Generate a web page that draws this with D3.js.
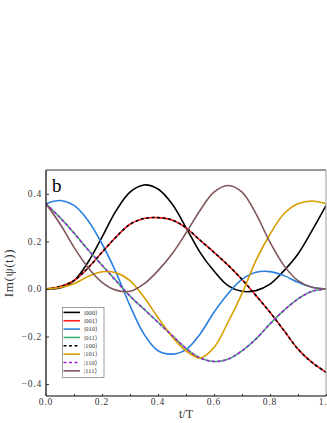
<!DOCTYPE html>
<html lang="en">
<head>
  <meta charset="UTF-8">
  <title>Im(psi(t))</title>
  <style>
    body { margin: 0; background: #fff; }
    text { font-family: "Liberation Serif", "DejaVu Serif", serif; }
  </style>
</head>
<script src="https://d3js.org/d3.v7.min.js"></script>
<body>
  <div id="d3"></div>
</body>
<script>
  const w = 327,
    h = 423;

  // t/T sample points
  const tt = [0, 0.05, 0.1, 0.15, 0.2, 0.25, 0.3, 0.35, 0.4, 0.45, 0.5,
    0.55, 0.6, 0.65, 0.7, 0.75, 0.8, 0.85, 0.9, 0.95, 1.0];

  // values
  const s000 = [0, 0.004, 0.035, 0.112, 0.218, 0.328, 0.407, 0.437, 0.42, 0.358, 0.258,
    0.154, 0.075, 0.014, -0.01, -0.007, 0.02, 0.077, 0.147, 0.245, 0.35];
  const s001 = [0, 0.01, 0.035, 0.088, 0.154, 0.218, 0.272, 0.296, 0.30, 0.29, 0.257,
    0.205, 0.154, 0.1, 0.04, -0.028, -0.098, -0.175, -0.253, -0.309, -0.35];
  const s010 = [0.358, 0.372, 0.351, 0.288, 0.19, 0.07, -0.07, -0.19, -0.26, -0.274, -0.255,
    -0.19, -0.098, -0.02, 0.04, 0.07, 0.073, 0.056, 0.028, 0.007, 0];
  const s011 = [0.358, 0.30, 0.235, 0.165, 0.1, 0.035, -0.03, -0.085, -0.14, -0.195, -0.25,
    -0.29, -0.305, -0.295, -0.26, -0.21, -0.147, -0.09, -0.042, -0.01, 0];
  const s100 = s001.slice();
  const s101 = [0, 0.006, 0.022, 0.052, 0.072, 0.068, 0.035, -0.035, -0.12, -0.2, -0.26,
    -0.29, -0.246, -0.14, -0.02, 0.12, 0.23, 0.316, 0.358, 0.37, 0.358];
  const s110 = s011.slice();
  const s111 = [0.358, 0.274, 0.175, 0.09, 0.028, -0.005, -0.01, 0.021, 0.077, 0.147, 0.235,
    0.33, 0.407, 0.435, 0.407, 0.316, 0.196, 0.098, 0.035, 0.007, 0];

  const names = ['|000⟩', '|001⟩', '|010⟩', '|011⟩', '|100⟩', '|101⟩', '|110⟩', '|111⟩'];
  const values = [s000, s001, s010, s011, s100, s101, s110, s111];
  const colors = ['#000000', '#ff1a1a', '#2a7fe0', '#3cb46e', '#000000', '#d69e00', '#a020e0', '#80575a'];
  const dashed = [false, false, false, false, true, false, true, false];

  const xTicks = [0, 0.2, 0.4, 0.6, 0.8, 1.0];
  const yTicks = [-0.4, -0.2, 0, 0.2, 0.4];

  const m = { left: 46, right: 326, top: 170, bottom: 396 };

  const x = d3.scaleLinear().domain([0, 1]).range([m.left, m.right]);
  const y = d3.scaleLinear().domain([-0.45, 0.5]).range([m.bottom, m.top]);

  const svg = d3.select('#d3').append('svg')
    .attr('width', w)
    .attr('height', h);

  svg.append('clipPath').attr('id', 'clip')
    .append('rect')
    .attr('x', m.left).attr('y', m.top)
    .attr('width', m.right - m.left).attr('height', m.bottom - m.top);

  // curves
  const line = d3.line()
    .x((d) => x(d[0]))
    .y((d) => y(d[1]))
    .curve(d3.curveCatmullRom.alpha(0.5));

  const series = names.map((n, i) => ({
    name: n,
    color: colors[i],
    dashed: dashed[i],
    pts: tt.map((t, j) => [t, values[i][j]])
  }));

  svg.append('g')
    .attr('clip-path', 'url(#clip)')
    .selectAll('path')
    .data(series)
    .enter()
    .append('path')
    .attr('d', (d) => line(d.pts))
    .attr('fill', 'none')
    .attr('stroke', (d) => d.color)
    .attr('stroke-width', 1.6)
    .attr('stroke-dasharray', (d) => d.dashed ? '3,2.5' : null);

  // frame
  svg.append('line').attr('x1', m.left).attr('x2', m.right).attr('y1', m.top).attr('y2', m.top)
    .attr('stroke', '#333').attr('stroke-width', 1);
  svg.append('line').attr('x1', m.right).attr('x2', m.right).attr('y1', m.top).attr('y2', m.bottom)
    .attr('stroke', '#999').attr('stroke-width', 1);
  svg.append('line').attr('x1', m.left).attr('x2', m.left).attr('y1', m.top).attr('y2', m.bottom)
    .attr('stroke', '#000').attr('stroke-width', 1.2);
  svg.append('line').attr('x1', m.left).attr('x2', m.right).attr('y1', m.bottom).attr('y2', m.bottom)
    .attr('stroke', '#000').attr('stroke-width', 1.2);

  // x axis, ticks point inwards
  const xAxis = svg.append('g')
    .attr('transform', `translate(0,${m.bottom})`)
    .call(d3.axisBottom(x).tickValues(d3.range(0, 1.01, 0.1)).tickSize(-2).tickFormat(''));
  xAxis.select('.domain').remove();
  xAxis.selectAll('line').attr('stroke', '#333');

  svg.append('g').selectAll('text')
    .data(xTicks)
    .enter()
    .append('text')
    .attr('x', (d) => x(d))
    .attr('y', 405)
    .attr('text-anchor', 'middle')
    .attr('font-size', 9.5)
    .attr('letter-spacing', 0.8)
    .attr('fill', '#333')
    .text((d) => d.toFixed(1));

  // y axis
  const yAxis = svg.append('g')
    .attr('transform', `translate(${m.left},0)`)
    .call(d3.axisLeft(y).tickValues(yTicks).tickSize(-3).tickFormat(''));
  yAxis.select('.domain').remove();
  yAxis.selectAll('line').attr('stroke', '#333');

  svg.append('g').selectAll('text')
    .data(yTicks)
    .enter()
    .append('text')
    .attr('x', 42)
    .attr('y', (d) => y(d))
    .attr('dy', '0.35em')
    .attr('text-anchor', 'end')
    .attr('font-size', 9.5)
    .attr('letter-spacing', 0.8)
    .attr('fill', '#333')
    .text((d) => (d < 0 ? '\u2212' : '') + Math.abs(d).toFixed(1));

  // axis titles
  svg.append('text')
    .attr('x', 186)
    .attr('y', 418)
    .attr('text-anchor', 'middle')
    .attr('font-size', 12)
    .attr('fill', '#333')
    .text('t/T');

  svg.append('text')
    .attr('transform', 'translate(13,273) rotate(-90)')
    .attr('text-anchor', 'middle')
    .attr('font-size', 13)
    .attr('letter-spacing', 0.6)
    .attr('fill', '#333')
    .text('Im(ψ(t))');

  svg.append('text')
    .attr('x', 52)
    .attr('y', 192)
    .attr('font-size', 19)
    .attr('fill', '#000')
    .text('b');

  // legend
  const leg = svg.append('g');
  leg.append('rect')
    .attr('x', 62.5).attr('y', 307.5)
    .attr('width', 41.5).attr('height', 70)
    .attr('fill', '#fff')
    .attr('stroke', '#888')
    .attr('stroke-width', 0.8);

  const rows = leg.selectAll('.row')
    .data(series)
    .enter()
    .append('g')
    .attr('transform', (d, i) => `translate(0,${312.4 + i * 8.35})`);

  rows.append('line')
    .attr('x1', 63.5).attr('x2', 80)
    .attr('stroke', (d) => d.color)
    .attr('stroke-width', 1.6)
    .attr('stroke-dasharray', (d) => d.dashed ? '3,2.5' : null);

  rows.append('text')
    .attr('x', 84)
    .attr('dy', '0.35em')
    .attr('font-size', 6.5)
    .attr('fill', '#333')
    .text((d) => d.name);
</script>
</html>
